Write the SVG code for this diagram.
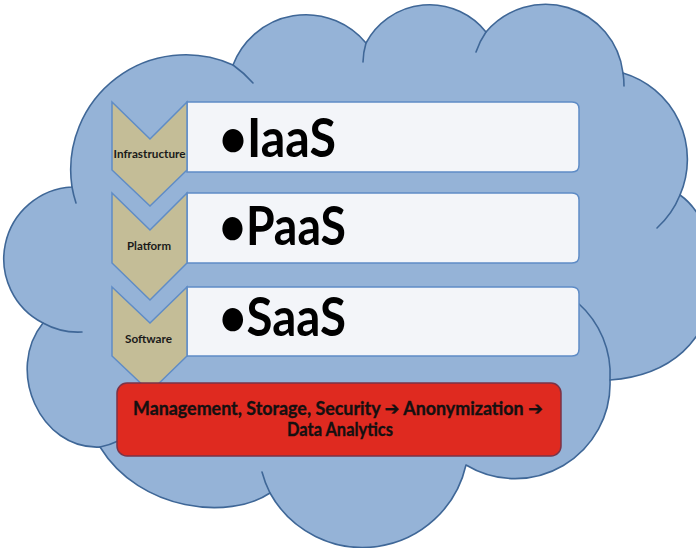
<svg xmlns="http://www.w3.org/2000/svg" width="696" height="548" viewBox="0 0 696 548">
  <style>
    .cloud { fill: #95b3d7; stroke: #3f6797; stroke-width: 1.6; stroke-linejoin: round; }
    .tail { fill: none; stroke: #3f6797; stroke-width: 1.6; stroke-linecap: round; }
    .chev { fill: #c4bd97; stroke: #5f8cc6; stroke-width: 1.5; stroke-linejoin: miter; }
    .panel { fill: #f3f5f9; stroke: #5f8cc6; stroke-width: 1.5; }
    .tag { font-family: Lato, "Open Sans", "DejaVu Sans", sans-serif; font-weight: 700; font-size: 10.5px; fill: #1a1a1a; text-anchor: middle; }
    .big { font-family: Lato, "Open Sans", "DejaVu Sans", sans-serif; font-weight: 700; font-size: 53px; fill: #000; }
    .pipe { fill: #df2a20; stroke: #7b3347; stroke-width: 1.5; }
    .pipe-text { font-family: Lato, "DejaVu Sans", sans-serif; font-weight: 700; font-size: 18px; fill: #141010; stroke: #141010; stroke-width: 0.35; text-anchor: middle; }
  </style>

  <!-- cloud body: eleven lobes joined clockwise -->
  <g id="cloud">
    <path class="cloud" d="M680,195 C730,230 740,370 610,380 A95,95 0 0 1 466,465 A106,106 0 0 1 270,493 C230,520 140,512 100,447 C40,450 5,370 43,323 A72,72 0 0 1 72,187 A115,115 0 0 1 233,65 A78,78 0 0 1 366,43 A72,72 0 0 1 486,32 A78,78 0 0 1 623,73 A90,90 0 0 1 680,195 Z"/>
    <!-- inner lobe tails -->
    <path class="tail" d="M76,203 A115,115 0 0 1 72,187"/>
    <path class="tail" d="M233,65 A115,115 0 0 1 253,83"/>
    <path class="tail" d="M363,62 A72,72 0 0 1 366,43"/>
    <path class="tail" d="M476,52 A78,78 0 0 1 486,32"/>
    <path class="tail" d="M623,73 A78,78 0 0 1 624,86"/>
    <path class="tail" d="M680,195 A90,90 0 0 1 657,228"/>
    <path class="tail" d="M578,303 A95,95 0 0 1 610,380"/>
    <path class="tail" d="M270,493 A106,106 0 0 1 262,472"/>
    <path class="tail" d="M118,441 Q110,445 100,447"/>
    <path class="tail" d="M82,332 A72,72 0 0 1 43,323"/>
  </g>

  <!-- service tiers -->
  <g id="tier-iaas">
    <path class="panel" d="M187,102 H572 Q579,102 579,109 V165 Q579,172 572,172 H187 Z"/>
    <path class="chev" d="M112,102 L150,139 L187,102 V170 L150,206 L112,170 Z"/>
    <text class="tag" x="149.5" y="158" textLength="72" lengthAdjust="spacingAndGlyphs">Infrastructure</text>
    <text class="big" x="219" y="157" textLength="117" lengthAdjust="spacingAndGlyphs">•IaaS</text>
  </g>

  <g id="tier-paas">
    <path class="panel" d="M187,193 H572 Q579,193 579,200 V256 Q579,263 572,263 H187 Z"/>
    <path class="chev" d="M112,193 L150,230 L187,193 V263 L150,300 L112,263 Z"/>
    <text class="tag" x="149" y="250" textLength="44" lengthAdjust="spacingAndGlyphs">Platform</text>
    <text class="big" x="219" y="245" textLength="127" lengthAdjust="spacingAndGlyphs">•PaaS</text>
  </g>

  <g id="tier-saas">
    <path class="panel" d="M187,287 H572 Q579,287 579,294 V349 Q579,356 572,356 H187 Z"/>
    <path class="chev" d="M112,287 L150,323 L187,287 V356 L150,392 L112,356 Z"/>
    <text class="tag" x="148.5" y="343" textLength="47" lengthAdjust="spacingAndGlyphs">Software</text>
    <text class="big" x="219" y="336" textLength="127" lengthAdjust="spacingAndGlyphs">•SaaS</text>
  </g>

  <!-- data pipeline bar -->
  <g id="pipeline">
    <rect class="pipe" x="117" y="383" width="444" height="73" rx="10" ry="10"/>
    <text class="pipe-text" x="338" y="415" textLength="410" lengthAdjust="spacingAndGlyphs">Management, Storage, Security ➔ Anonymization ➔</text>
    <text class="pipe-text" x="340" y="436" textLength="106" lengthAdjust="spacingAndGlyphs">Data Analytics</text>
  </g>
</svg>
